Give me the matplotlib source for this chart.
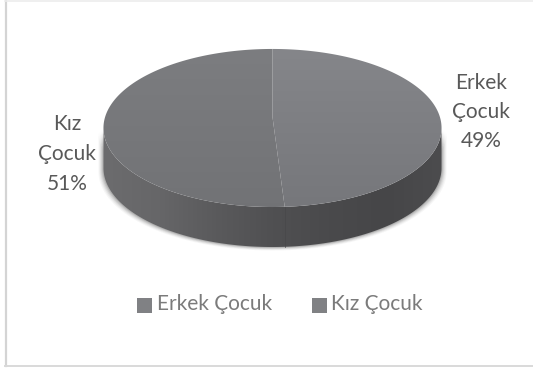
import matplotlib
matplotlib.use("Agg")
import matplotlib.pyplot as plt
from matplotlib.patches import Polygon, Rectangle
from matplotlib.colors import LinearSegmentedColormap
import numpy as np

categories = ["Erkek Çocuk", "Kız Çocuk"]
values = [49, 51]
label_lines = [["Erkek", "Çocuk", "49%"], ["Kız", "Çocuk", "51%"]]

plt.rcParams["font.family"] = ["Lato", "DejaVu Sans"]

W, H = 533, 371
fig = plt.figure(figsize=(W / 100, H / 100), dpi=100)
ax = fig.add_axes([0, 0, 1, 1])
ax.set_xlim(0, W)
ax.set_ylim(H, 0)
ax.axis("off")

# Chart frame (left, top and bottom edges only)
ax.plot([5.5, 5.5], [0, 366], color="#d4d4d4", lw=1.6)
ax.plot([5, W], [0.5, 0.5], color="#ececec", lw=1.2)
ax.plot([5, W], [366, 366], color="#d9d9d9", lw=1.4)

# Tilted disc: a unit circle pushed through a simple perspective
cx, cy = 272.5, 117
k, a, b = 0.139, 167.4, 77.5
depth = 40


def rim(theta):
    # theta runs clockwise from twelve o'clock
    u, v = np.sin(theta), np.cos(theta)
    w = 1 + k * v
    return np.column_stack([cx + a * u / w, cy - b * v / w])


def gradient(poly, stops, horizontal=False, zorder=2):
    cmap = LinearSegmentedColormap.from_list("g", stops)
    grid = np.linspace(0, 1, 256)
    grid = grid[None, :] if horizontal else grid[:, None]
    im = ax.imshow(grid, cmap=cmap, vmin=0, vmax=1, aspect="auto",
                   extent=[103, 442, 250, 48], origin="upper",
                   zorder=zorder, interpolation="bilinear")
    patch = Polygon(poly, closed=True, transform=ax.transData, fc="none", ec="none")
    ax.add_patch(patch)
    im.set_clip_path(patch)
    ax.set_xlim(0, W)
    ax.set_ylim(H, 0)


# Wall of the disc: only the front part of the rim, from the widest points
wide = np.arccos(-k)
front = rim(np.linspace(wide, 2 * np.pi - wide, 200))
wall = np.vstack([front, (front + [0, depth])[::-1]])

# Soft shadow around the lower wall
for grow, alpha in [(5, 0.05), (4, 0.07), (3, 0.10), (2, 0.14), (1, 0.2)]:
    sx = cx + (wall[:, 0] - cx) * (1 + grow / 169)
    sy = wall[:, 1] + grow * 0.7
    ax.add_patch(Polygon(np.column_stack([sx, sy]), closed=True, fc="#555555",
                         ec="none", alpha=alpha, zorder=1))

gradient(wall, ["#6c6c6e", "#666668", "#5a5a5c", "#505052", "#4a4a4c", "#464648", "#4c4c4e"],
         horizontal=True)

# Top faces, one per category, sized from the values
fractions = np.cumsum([0] + values) / sum(values)
top_colors = [["#85868a", "#727377"], ["#7c7d80", "#6f7073"]]
for i in range(len(values)):
    th = np.linspace(fractions[i], fractions[i + 1], 200) * 2 * np.pi
    gradient(np.vstack([[cx, cy], rim(th)]), top_colors[i], zorder=3)

# Wall seam under the slice boundary
seam = rim(np.array([fractions[1] * 2 * np.pi]))[0]
ax.plot([seam[0], seam[0]], [seam[1], seam[1] + depth], color="#48484a", lw=0.5, zorder=3)

# Data labels
label_x = [481, 67]
label_y = [[83, 112, 141], [124, 154, 184]]
for lines, x, ys in zip(label_lines, label_x, label_y):
    for line, y in zip(lines, ys):
        ax.text(x, y, line, ha="center", va="center", fontsize=15, color="#595959", zorder=5)

# Legend
swatch_x = [137, 312]
text_x = [157, 331]
for name, sx, tx in zip(categories, swatch_x, text_x):
    ax.add_patch(Rectangle((sx, 298), 15, 14.5, fc="#808184", ec="none", zorder=5))
    ax.text(tx, 304.5, name, ha="left", va="center", fontsize=15, color="#7b7b7b", zorder=5)

fig.savefig("out.png", dpi=100)
